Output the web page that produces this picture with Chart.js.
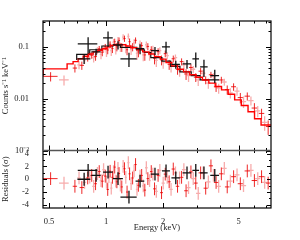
<!DOCTYPE html>
<html>
<head>
<meta charset="utf-8">
<script src="https://cdn.jsdelivr.net/npm/chart.js@4.4.1/dist/chart.umd.min.js"></script>
<style>
  html, body { margin: 0; padding: 0; background: #fff; }
</style>
</head>
<body>
<canvas id="chart" width="300" height="240"></canvas>
<script>
// energy ticks and axis labels
const xTicks = [0.5, 1, 2, 5];
const yTicks = [0.001, 0.01, 0.1];
const resTicks = [-4, -2, 0, 2, 4];

// red model (step), bin edges in keV and counts s-1 keV-1
const modelEdges = [0.466, 0.623, 0.670, 0.712, 0.757, 0.805, 0.855, 0.905, 0.955, 1.01, 1.06, 1.12, 1.19, 1.27, 1.35, 1.45, 1.56, 1.68, 1.80, 1.93, 2.07, 2.22, 2.38, 2.56, 2.76, 2.98, 3.22, 3.48, 3.76, 4.06, 4.40, 4.76, 5.16, 5.60, 6.06, 6.56, 7.10, 7.40];
const modelVals = [0.0277, 0.0377, 0.047, 0.052, 0.059, 0.066, 0.073, 0.080, 0.086, 0.092, 0.100, 0.107, 0.112, 0.110, 0.104, 0.096, 0.088, 0.080, 0.073, 0.065, 0.058, 0.050, 0.043, 0.037, 0.033, 0.029, 0.026, 0.023, 0.020, 0.0172, 0.0148, 0.0122, 0.0095, 0.0074, 0.0056, 0.0041, 0.0031];

// black model (step)
const blackEdges = [0.70, 0.82, 0.95, 1.09, 1.19, 1.45, 1.59, 1.72, 1.97, 2.19, 2.45, 2.81, 3.13, 3.43, 3.94];
const blackVals = [0.056, 0.072, 0.088, 0.104, 0.108, 0.098, 0.088, 0.078, 0.062, 0.053, 0.042, 0.033, 0.028, 0.023];

// red data (solid)
const redE = [0.51, 0.685, 0.745, 0.80, 0.84, 0.88, 0.92, 0.955, 0.99, 1.02, 1.05, 1.08, 1.11, 1.14, 1.17, 1.21, 1.25, 1.29, 1.33, 1.38, 1.43, 1.48, 1.54, 1.60, 1.66, 1.73, 1.80, 1.88, 1.96, 2.05, 2.15, 2.26, 2.38, 2.50, 2.64, 2.80, 2.97, 3.15, 3.35, 3.57, 3.80, 4.05, 4.35, 4.70, 5.10, 5.55, 6.05, 6.60, 7.15];
const redW = [0.045, 0.018, 0.020, 0.015, 0.015, 0.015, 0.015, 0.015, 0.015, 0.014, 0.014, 0.014, 0.014, 0.014, 0.015, 0.016, 0.016, 0.016, 0.017, 0.018, 0.020, 0.020, 0.022, 0.024, 0.025, 0.027, 0.030, 0.032, 0.035, 0.038, 0.040, 0.045, 0.050, 0.055, 0.060, 0.065, 0.070, 0.080, 0.085, 0.090, 0.100, 0.110, 0.120, 0.140, 0.160, 0.180, 0.200, 0.220, 0.200];
const redC = [0.0270, 0.0390, 0.0440, 0.0610, 0.0690, 0.0650, 0.0920, 0.0790, 0.1000, 0.0870, 0.1120, 0.0930, 0.1260, 0.1000, 0.1330, 0.0990, 0.1450, 0.0880, 0.1260, 0.1000, 0.1340, 0.0800, 0.1060, 0.0700, 0.1020, 0.0880, 0.0600, 0.0810, 0.0560, 0.0740, 0.0460, 0.0590, 0.0370, 0.0520, 0.0300, 0.0400, 0.0260, 0.0340, 0.0230, 0.0290, 0.0170, 0.0230, 0.0150, 0.0170, 0.0105, 0.0112, 0.0066, 0.0052, 0.0029];
const redErr = [0.0055, 0.0070, 0.0080, 0.0090, 0.0100, 0.0110, 0.0120, 0.0130, 0.0140, 0.0150, 0.0160, 0.0170, 0.0180, 0.0180, 0.0190, 0.0190, 0.0200, 0.0190, 0.0190, 0.0180, 0.0180, 0.0170, 0.0170, 0.0160, 0.0160, 0.0150, 0.0140, 0.0130, 0.0120, 0.0110, 0.0100, 0.0090, 0.0080, 0.0080, 0.0070, 0.0060, 0.0050, 0.0050, 0.0040, 0.0040, 0.0035, 0.0035, 0.0030, 0.0028, 0.0024, 0.0020, 0.0016, 0.0012, 0.0009];
const redRes = [0.1, -1.1, -1.3, 0.2, 0.6, -0.7, 1.2, -0.3, 0.5, -1.6, 1.25, 0.3, 1.9, -0.4, 0.9, -1.2, 1.65, -2.0, 0.85, 0.2, 2.3, -0.95, 0.6, -1.7, 0.1, 1.2, -1.5, 0.6, -2.1, 0.8, -0.4, 1.6, -1.1, 0.3, -1.8, 1.15, -0.6, 1.0, -1.4, 2.1, -0.5, 0.85, -1.2, 0.4, -0.7, 1.3, -0.2, 0.4, -0.6];

// red data (light)
const pinkE = [0.60, 0.72, 0.77, 0.82, 0.86, 0.90, 0.94, 0.97, 1.005, 1.035, 1.065, 1.095, 1.125, 1.155, 1.19, 1.23, 1.27, 1.31, 1.355, 1.405, 1.455, 1.51, 1.57, 1.63, 1.695, 1.765, 1.84, 1.92, 2.00, 2.10, 2.20, 2.32, 2.44, 2.57, 2.72, 2.88, 3.06, 3.25, 3.46, 3.68, 3.92, 4.20, 4.52, 4.90, 5.30, 5.80, 6.30, 6.85];
const pinkW = [0.035, 0.015, 0.015, 0.015, 0.015, 0.015, 0.015, 0.015, 0.015, 0.014, 0.014, 0.014, 0.014, 0.015, 0.016, 0.016, 0.016, 0.017, 0.018, 0.020, 0.020, 0.022, 0.024, 0.025, 0.027, 0.030, 0.032, 0.035, 0.038, 0.040, 0.045, 0.050, 0.055, 0.060, 0.065, 0.070, 0.080, 0.085, 0.090, 0.100, 0.110, 0.120, 0.130, 0.150, 0.170, 0.190, 0.200, 0.220];
const pinkC = [0.0230, 0.0450, 0.0560, 0.0700, 0.0620, 0.0850, 0.0720, 0.0930, 0.0800, 0.1080, 0.0850, 0.1230, 0.0900, 0.1350, 0.1000, 0.1550, 0.0950, 0.1600, 0.0900, 0.1200, 0.0750, 0.1150, 0.0700, 0.1100, 0.0700, 0.0900, 0.0550, 0.0850, 0.0500, 0.0680, 0.0420, 0.0620, 0.0350, 0.0450, 0.0280, 0.0370, 0.0230, 0.0310, 0.0200, 0.0270, 0.0160, 0.0210, 0.0130, 0.0140, 0.0088, 0.0092, 0.0058, 0.0035];
const pinkErr = [0.0050, 0.0080, 0.0090, 0.0110, 0.0120, 0.0130, 0.0140, 0.0150, 0.0160, 0.0170, 0.0180, 0.0190, 0.0190, 0.0200, 0.0200, 0.0210, 0.0200, 0.0210, 0.0200, 0.0200, 0.0190, 0.0180, 0.0170, 0.0170, 0.0160, 0.0150, 0.0140, 0.0130, 0.0120, 0.0110, 0.0100, 0.0090, 0.0085, 0.0080, 0.0070, 0.0060, 0.0055, 0.0050, 0.0045, 0.0040, 0.0035, 0.0032, 0.0029, 0.0026, 0.0022, 0.0018, 0.0014, 0.0011];
const pinkRes = [-0.6, 0.2, -0.5, 0.35, -1.1, 0.9, -0.2, 1.5, -0.5, 0.4, -1.4, 1.2, -0.3, 1.7, -0.9, 2.0, 0.3, 2.6, -0.7, 1.3, -1.6, 0.5, -1.05, 1.8, -0.2, 0.8, -1.9, 1.4, -0.6, 0.3, -1.6, 1.0, 0.2, 1.5, -1.3, 0.1, -2.2, 1.0, -0.4, 0.6, -1.1, 1.7, -0.3, 0.7, -1.0, 1.4, 0.1, -0.5];

// black data
const blkE = [0.804, 0.766, 0.886, 1.024, 1.156, 1.32, 1.51, 1.81, 2.07, 2.33, 2.67, 2.97, 3.28, 3.74];
const blkW = [0.095, 0.060, 0.050, 0.060, 0.070, 0.130, 0.080, 0.090, 0.100, 0.120, 0.140, 0.120, 0.150, 0.200];
const blkC = [0.114, 0.0588, 0.080, 0.149, 0.109, 0.0588, 0.092, 0.085, 0.100, 0.046, 0.047, 0.0588, 0.0413, 0.028];
const blkErr = [0.040, 0.012, 0.012, 0.050, 0.020, 0.018, 0.020, 0.015, 0.025, 0.008, 0.009, 0.019, 0.015, 0.008];
const blkRes = [1.4, 0.0, 0.6, 1.1, 0.1, -2.8, -0.3, 0.8, 1.3, 0.2, 1.0, 1.4, 1.0, 0.6];

const X_MIN = 0.465, X_MAX = 7.4;
const font = { family: 'Liberation Serif', size: 8.5 };

function steps(edges, vals) {
  return edges.map((e, i) => ({ x: e, y: vals[Math.min(i, vals.length - 1)] }));
}
function bars(E, W, C, Err) {
  return E.map((e, i) => ({ x: e, y: C[i], xl: e - W[i], xh: e + W[i], yl: C[i] - Err[i], yh: C[i] + Err[i] }));
}
function resBars(E, W, R) {
  return E.map((e, i) => ({ x: e, y: R[i], xl: e - W[i], xh: e + W[i], yl: R[i] - 1, yh: R[i] + 1 }));
}

function drawBars(chart, layer) {
  const ctx = chart.ctx, x = chart.scales.x, a = chart.chartArea;
  chart.data.datasets.forEach(ds => {
    if (!ds.bars || ds.layer !== layer) return;
    const y = chart.scales[ds.yAxisID];
    ctx.save();
    ctx.beginPath();
    ctx.rect(a.left, y.top, a.right - a.left, y.bottom - y.top);
    ctx.clip();
    ctx.strokeStyle = ds.barColor;
    ctx.lineWidth = ds.barWidth;
    ds.data.forEach(p => {
      const px = x.getPixelForValue(p.x), py = y.getPixelForValue(p.y);
      ctx.beginPath();
      ctx.moveTo(x.getPixelForValue(p.xl), py);
      ctx.lineTo(x.getPixelForValue(p.xh), py);
      ctx.moveTo(px, y.getPixelForValue(Math.max(p.yl, y.min)));
      ctx.lineTo(px, y.getPixelForValue(p.yh));
      ctx.stroke();
    });
    ctx.restore();
  });
}

function drawFrame(chart) {
  const ctx = chart.ctx, a = chart.chartArea;
  const x = chart.scales.x, y = chart.scales.y, r = chart.scales.r;
  const yb = y.bottom;
  ctx.save();
  ctx.strokeStyle = '#000';
  ctx.lineWidth = 1;
  ctx.beginPath();
  // x ticks on top, panel boundary and bottom
  const xMinor = [0.6, 0.7, 0.8, 0.9, 3, 4, 6, 7];
  const xAll = xTicks.map(v => [v, 5]).concat(xMinor.map(v => [v, 2.5]));
  xAll.forEach(t => {
    const px = Math.round(x.getPixelForValue(t[0])) + 0.5;
    ctx.moveTo(px, a.top); ctx.lineTo(px, a.top + t[1]);
    ctx.moveTo(px, yb - t[1]); ctx.lineTo(px, yb + t[1]);
    ctx.moveTo(px, a.bottom); ctx.lineTo(px, a.bottom - t[1]);
  });
  // log y ticks
  for (let d = -3; d <= -1; d++) {
    for (let m = 1; m <= 9; m++) {
      const v = m * Math.pow(10, d);
      if (v > y.max) continue;
      const py = Math.round(y.getPixelForValue(v)) + 0.5;
      const len = m === 1 ? 5 : 2.5;
      ctx.moveTo(a.left, py); ctx.lineTo(a.left + len, py);
      ctx.moveTo(a.right, py); ctx.lineTo(a.right - len, py);
    }
  }
  // residual ticks
  for (let v = -4; v <= 4; v++) {
    const py = Math.round(r.getPixelForValue(v)) + 0.5;
    const len = v % 2 === 0 ? 4 : 2;
    ctx.moveTo(a.left, py); ctx.lineTo(a.left + len, py);
    ctx.moveTo(a.right, py); ctx.lineTo(a.right - len, py);
  }
  ctx.stroke();
  ctx.lineWidth = 1.2;
  ctx.strokeRect(a.left, a.top, a.right - a.left, a.bottom - a.top);
  ctx.strokeStyle = '#555';
  ctx.lineWidth = 1.5;
  ctx.beginPath();
  ctx.moveTo(a.left, yb);
  ctx.lineTo(a.right, yb);
  ctx.stroke();
  ctx.restore();
}

const errorBarPlugin = {
  id: 'errorBars',
  beforeDatasetsDraw(chart) { drawBars(chart, 'under'); },
  afterDatasetsDraw(chart) { drawBars(chart, 'over'); },
  afterDraw(chart) { drawFrame(chart); }
};

const noLine = { showLine: false, pointRadius: 0, bars: true };

new Chart(document.getElementById('chart'), {
  type: 'scatter',
  data: {
    datasets: [
      { data: steps(modelEdges, modelVals), yAxisID: 'y', showLine: true, stepped: 'after', borderColor: '#ff0000', borderWidth: 1.4, pointRadius: 0 },
      { data: [{ x: X_MIN, y: 0 }, { x: X_MAX, y: 0 }], yAxisID: 'r', showLine: true, borderColor: 'rgb(110,215,110)', borderWidth: 2, pointRadius: 0 },
      { data: steps(blackEdges, blackVals), yAxisID: 'y', showLine: true, stepped: 'after', borderColor: '#111', borderWidth: 1.2, pointRadius: 0 },
      { ...noLine, data: bars(blkE, blkW, blkC, blkErr), yAxisID: 'y', layer: 'over', barColor: '#111', barWidth: 1.3 },
      { ...noLine, data: resBars(blkE, blkW, blkRes), yAxisID: 'r', layer: 'over', barColor: '#111', barWidth: 1.3 },
      { ...noLine, data: bars(redE, redW, redC, redErr), yAxisID: 'y', layer: 'under', barColor: 'rgba(235,0,0,0.85)', barWidth: 1 },
      { ...noLine, data: resBars(redE, redW, redRes), yAxisID: 'r', layer: 'under', barColor: 'rgba(235,0,0,0.85)', barWidth: 1 },
      { ...noLine, data: bars(pinkE, pinkW, pinkC, pinkErr), yAxisID: 'y', layer: 'under', barColor: 'rgba(240,90,90,0.5)', barWidth: 1.3 },
      { ...noLine, data: resBars(pinkE, pinkW, pinkRes), yAxisID: 'r', layer: 'under', barColor: 'rgba(240,90,90,0.5)', barWidth: 1.3 }
    ]
  },
  options: {
    responsive: false,
    animation: false,
    devicePixelRatio: 1,
    layout: { padding: { top: 21, right: 29, left: 0, bottom: 7 } },
    plugins: { legend: { display: false }, tooltip: { enabled: false } },
    scales: {
      x: {
        type: 'logarithmic', min: X_MIN, max: X_MAX,
        grid: { display: false }, border: { display: false },
        afterBuildTicks: s => { s.ticks = xTicks.map(v => ({ value: v })); },
        ticks: { callback: v => String(v), font, color: '#222', padding: 1, maxRotation: 0, autoSkip: false },
        title: { display: true, text: 'Energy (keV)', font, color: '#222', padding: { top: 0, bottom: 0 } },
        afterFit: s => { s.height = 25; }
      },
      r: {
        type: 'linear', min: -4.5, max: 4.5, position: 'left', stack: 'v', stackWeight: 57.5,
        grid: { display: false }, border: { display: false },
        afterBuildTicks: s => { s.ticks = resTicks.map(v => ({ value: v })); },
        ticks: { callback: v => String(v), font, color: '#222', padding: 6, autoSkip: false },
        title: { display: true, text: 'Residuals (σ)', font, color: '#222', padding: { top: 1, bottom: 0 } },
        afterFit: s => { s.width = 43; }
      },
      y: {
        type: 'logarithmic', min: 0.001, max: 0.316, position: 'left', stack: 'v', stackWeight: 129.5,
        grid: { display: false }, border: { display: false },
        afterBuildTicks: s => { s.ticks = yTicks.map(v => ({ value: v })); },
        ticks: { callback: v => v === 0.001 ? '10⁻³' : String(v), font, color: '#222', padding: 6, autoSkip: false },
        title: { display: true, text: 'Counts s⁻¹ keV⁻¹', font, color: '#222', padding: { top: 1, bottom: 0 } },
        afterFit: s => { s.width = 43; }
      }
    }
  },
  plugins: [errorBarPlugin]
});
</script>
</body>
</html>
